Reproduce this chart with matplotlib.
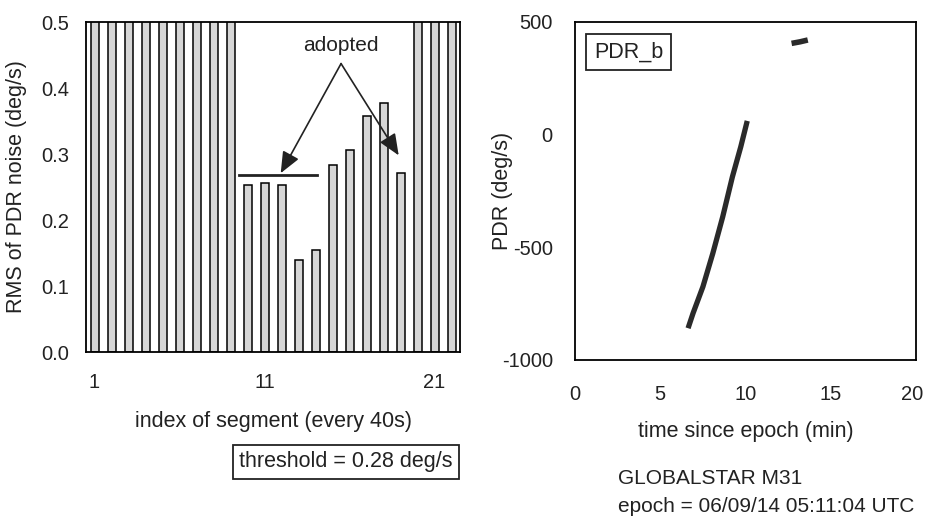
import matplotlib.pyplot as plt
import matplotlib.transforms as mtransforms

plt.rcParams['font.family'] = ['Liberation Sans', 'DejaVu Sans']
plt.rcParams['axes.unicode_minus'] = False

# left panel: RMS of PDR noise per segment (values above 0.5 run off the top)
segments = list(range(1, 23))
rms = [0.8, 0.8, 0.8, 0.8, 0.8, 0.8, 0.8, 0.8, 0.8,
       0.253, 0.256, 0.253, 0.139, 0.155, 0.283, 0.306, 0.357, 0.378, 0.272,
       0.8, 0.8, 0.8]
adopted_level = 0.268
adopted_span = [9.5, 14.1]

# right panel: PDR_b vs time since epoch
t_main = [6.63, 6.92, 7.50, 8.08, 8.66, 9.23, 9.72, 10.1]
pdr_main = [-859, -793, -675, -527, -365, -187, -54, 61]
t_short = [12.7, 13.2, 13.65]
pdr_short = [405, 412, 420]

fig = plt.figure(figsize=(9.27, 5.17), dpi=100)

ax1 = fig.add_axes([0.0928, 0.3191, 0.4035, 0.6383])
ax1.bar(segments, rms, width=0.47, color='#d6d6d6', edgecolor='black', linewidth=1.1)
ax1.plot(adopted_span, [adopted_level, adopted_level], color='#222222', lw=2.0)
ax1.set_xlim(0.5, 22.5)
ax1.set_ylim(0, 0.5)
ax1.set_xticks([1, 11, 21])
ax1.set_yticks([0.0, 0.1, 0.2, 0.3, 0.4, 0.5])
ax1.yaxis.set_major_formatter(plt.FormatStrFormatter('%.1f'))
ax1.tick_params(length=0, labelsize=14.5, colors='#222222')
ax1.tick_params(axis='x', pad=15)
ax1.tick_params(axis='y', pad=12)
ax1.set_xlabel('index of segment (every 40s)', fontsize=15.5, color='#222222', labelpad=14)
ax1.set_ylabel('RMS of PDR noise (deg/s)', fontsize=15.5, color='#222222', labelpad=10)
for s in ax1.spines.values():
    s.set_linewidth(1.3)

ax1.text(15.5, 0.465, 'adopted', ha='center', va='center', fontsize=15, color='#222222')
for tip in [(11.95, 0.271), (18.89, 0.298)]:
    ax1.annotate('', xy=tip, xytext=(15.5, 0.437),
                 arrowprops=dict(arrowstyle='-|>,head_length=1.3,head_width=0.55',
                                 color='#222222', lw=1.2, shrinkA=0, shrinkB=0))

fig.text(346 / 927, 1 - 462 / 517, 'threshold = 0.28 deg/s', ha='center', va='center',
         fontsize=15.5, color='#222222',
         bbox=dict(boxstyle='square,pad=0.3', fc='white', ec='#222222', lw=1.3))

ax2 = fig.add_axes([0.6203, 0.3037, 0.3679, 0.6538])
ax2.plot(t_main, pdr_main, color='#2a2a2a', lw=3.8, solid_capstyle='butt')
ax2.plot(t_short, pdr_short, color='#2a2a2a', lw=4.0, solid_capstyle='butt')
ax2.set_xlim(0, 20)
ax2.set_ylim(-1000, 500)
ax2.set_xticks([0, 5, 10, 15, 20])
ax2.set_yticks([-1000, -500, 0, 500])
ax2.tick_params(length=0, labelsize=14.5, colors='#222222')
ax2.tick_params(axis='x', pad=18)
ax2.tick_params(axis='y', pad=16)
ax2.set_xlabel('time since epoch (min)', fontsize=15.5, color='#222222', labelpad=12)
ax2.set_ylabel('PDR (deg/s)', fontsize=15.5, color='#222222', labelpad=-8)
for s in ax2.spines.values():
    s.set_linewidth(1.3)
# nudge the last x label left so it stays inside the figure
last = ax2.get_xticklabels()[-1]
last.set_transform(last.get_transform() +
                   mtransforms.ScaledTranslation(-4 / 100, 0, fig.dpi_scale_trans))
ax2.text(0.157, 0.91, 'PDR_b', transform=ax2.transAxes, ha='center', va='center',
         fontsize=15.5, color='#222222',
         bbox=dict(boxstyle='square,pad=0.35', fc='white', ec='#222222', lw=1.3))

fig.text(618 / 927, 1 - 479 / 517, 'GLOBALSTAR M31', ha='left', va='center',
         fontsize=15, color='#222222')
fig.text(618 / 927, 1 - 507 / 517, 'epoch = 06/09/14 05:11:04 UTC', ha='left', va='center',
         fontsize=15, color='#222222')

fig.savefig('out.png', dpi=100)
